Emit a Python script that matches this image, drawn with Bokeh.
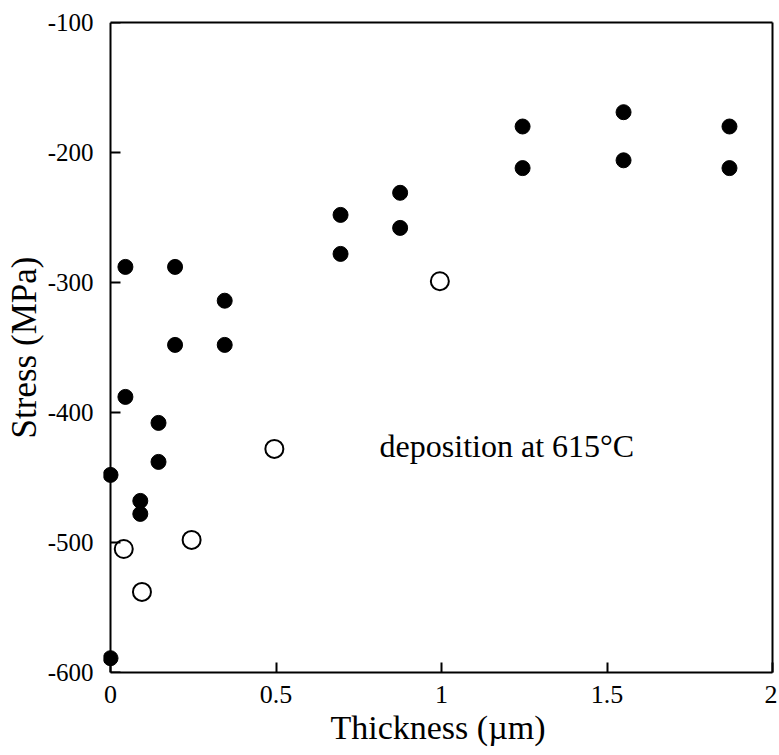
from bokeh.plotting import figure
from bokeh.models import Range1d, FixedTicker, Label, LinearAxis
from bokeh.embed import file_html
from bokeh.resources import INLINE

# Data
filled_x = [0, 0, 0.045, 0.045, 0.09, 0.09, 0.145, 0.145, 0.195, 0.195,
            0.345, 0.345, 0.695, 0.695, 0.875, 0.875, 1.245, 1.245,
            1.55, 1.55, 1.87, 1.87]
filled_y = [-448, -589, -288, -388, -468, -478, -408, -438, -288, -348,
            -314, -348, -248, -278, -231, -258, -180, -212,
            -169, -206, -180, -212]
open_x = [0.04, 0.095, 0.245, 0.495, 0.995]
open_y = [-505, -538, -498, -428, -299]

x_ticks = [0, 0.5, 1, 1.5, 2]
y_ticks = [-600, -500, -400, -300, -200, -100]
x_tick_labels = {0: "0", 0.5: "0.5", 1: "1", 1.5: "1.5", 2: "2"}
y_tick_labels = {-600: "-600", -500: "-500", -400: "-400",
                 -300: "-300", -200: "-200", -100: "-100"}
annotation = "deposition at 615°C"

FONT = "Liberation Serif"

p = figure(width=777, height=752, output_backend="svg", toolbar_location=None,
           x_range=Range1d(-0.0212, 2), y_range=Range1d(-600, -100),
           min_border_left=103, min_border_right=5, min_border_top=22,
           min_border_bottom=80)
p.grid.visible = False
p.outline_line_color = None
p.background_fill_color = "white"
p.border_fill_color = "white"


def style(ax):
    ax.axis_line_width = 2
    ax.axis_line_color = "black"
    ax.major_tick_in = 10
    ax.major_tick_out = 0
    ax.major_tick_line_width = 2
    ax.minor_tick_line_color = None
    ax.major_label_text_font = FONT
    ax.major_label_text_font_size = "25px"
    ax.major_label_text_color = "black"
    ax.axis_label_text_font = FONT
    ax.axis_label_text_font_style = "normal"
    ax.axis_label_text_color = "black"


xa = p.xaxis[0]
ya = p.yaxis[0]
style(xa)
style(ya)
xa.ticker = FixedTicker(ticks=x_ticks)
xa.major_label_overrides = x_tick_labels
xa.major_label_text_font_size = "26px"
xa.bounds = (0, 2)
xa.axis_label = "Thickness (µm)"
xa.axis_label_text_font_size = "34px"
xa.major_label_standoff = 13
xa.axis_label_standoff = 3

# left axis at frame edge: labels and title only
ya.ticker = FixedTicker(ticks=y_ticks)
ya.major_label_overrides = y_tick_labels
ya.axis_line_color = None
ya.major_tick_line_color = None
ya.axis_label = "Stress (MPa)"
ya.axis_label_text_font_size = "35px"
ya.major_label_standoff = 10
ya.axis_label_standoff = 1


def bare_axis(**kw):
    return LinearAxis(axis_line_width=2, axis_line_color="black",
                      minor_tick_line_color=None,
                      major_label_text_color=None,
                      axis_label_text_color=None, **kw)


# spine with inward ticks placed at x = 0 (keeps the x = 0 dots unclipped)
spine = bare_axis(ticker=FixedTicker(ticks=y_ticks), fixed_location=0,
                  major_tick_in=10, major_tick_out=0, major_tick_line_width=2)
p.add_layout(spine, "left")

# plain frame lines on top and right
top = bare_axis(bounds=(0, 2), ticker=FixedTicker(ticks=[]),
                major_tick_line_color=None)
right = bare_axis(ticker=FixedTicker(ticks=[]), major_tick_line_color=None)
p.add_layout(top, "above")
p.add_layout(right, "right")

p.scatter(x=filled_x, y=filled_y, size=15, marker="circle",
          fill_color="black", line_color="black")
p.scatter(x=open_x, y=open_y, size=18, marker="circle",
          fill_color="white", line_color="black", line_width=2)

p.add_layout(Label(x=0.813, y=-426, text=annotation, text_font=FONT,
                   text_font_size="32px", text_color="black",
                   text_baseline="alphabetic"))

open("out.html", "w").write(file_html(p, INLINE))
